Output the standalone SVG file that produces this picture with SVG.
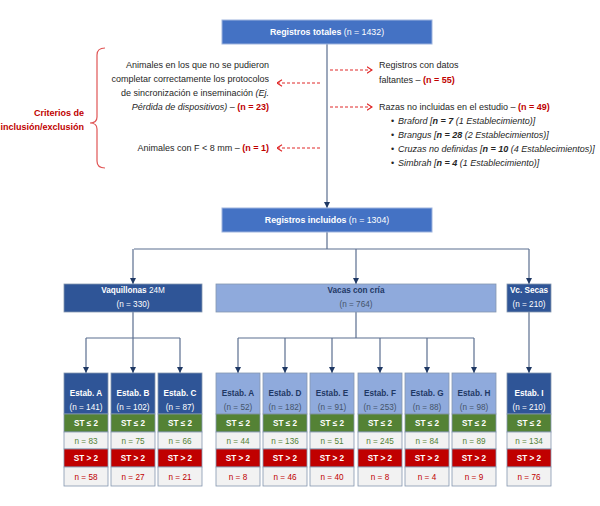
<svg xmlns="http://www.w3.org/2000/svg" width="600" height="506" viewBox="0 0 600 506">
<defs>
<marker id="arr" viewBox="0 0 6 6" refX="6" refY="3" markerWidth="6" markerHeight="6" markerUnits="userSpaceOnUse" orient="auto"><path d="M0,0 L6,3 L0,6 Z" fill="#1F3864"/></marker>
<marker id="darr" viewBox="0 0 6 8" refX="5.5" refY="4" markerWidth="6" markerHeight="8" markerUnits="userSpaceOnUse" orient="auto"><path d="M0.5,0.8 L5.5,4 L0.5,7.2" fill="none" stroke="#E02828" stroke-width="1.1"/></marker>
<style>
text{font-family:"Liberation Sans",Arial,sans-serif;}
.con{fill:none;stroke:#5B6E8F;stroke-width:1.2;marker-end:url(#arr);}
.line{fill:none;stroke:#5B6E8F;stroke-width:1.2;}
.dash{fill:none;stroke:#E02828;stroke-width:1;stroke-dasharray:3,2;marker-end:url(#darr);}
.ann{font-size:9px;fill:#262626;}
.red{fill:#C00000;font-weight:bold;}
.top{fill:#4472C4;stroke:#9DB3DD;stroke-width:1;}
.tw{font-size:8.8px;fill:#FFFFFF;text-anchor:middle;}
.dk{fill:#2F5597;stroke:#8497B0;stroke-width:0.8;}
.lt{fill:#8FAADC;stroke:#8497B0;stroke-width:0.8;}
.gr{fill:#548235;stroke:#8497B0;stroke-width:0.8;}
.rd{fill:#C00000;stroke:#8497B0;stroke-width:0.8;}
.wh{fill:#F2F2F2;stroke:#8497B0;stroke-width:0.8;}
.s{font-size:8.2px;text-anchor:middle;}
.w{fill:#FFFFFF;}
.nv{fill:#1F3864;}
.gy{fill:#44546A;}
.gt{fill:#548235;}
.rt{fill:#C00000;}
</style>
</defs>

<g id="connectors">
<path class="con" d="M327,44 V208"/>
<path class="line" d="M327,232 V249 M134,249 H529"/>
<path class="con" d="M133,249 V284"/>
<path class="con" d="M356,249 V284"/>
<path class="con" d="M529,249 V284"/>
<path class="line" d="M133,312 V338 M86,338 H180"/>
<path class="con" d="M86,338 V373"/>
<path class="con" d="M133,338 V373"/>
<path class="con" d="M180,338 V373"/>
<path class="line" d="M356,312 V338 M238,338 H474"/>
<path class="con" d="M238,338 V373"/>
<path class="con" d="M285,338 V373"/>
<path class="con" d="M332,338 V373"/>
<path class="con" d="M380,338 V373"/>
<path class="con" d="M427,338 V373"/>
<path class="con" d="M474,338 V373"/>
<path class="con" d="M529,312 V373"/>
<path class="dash" d="M330,70 H372"/>
<path class="dash" d="M330,107 H372"/>
<path class="dash" d="M320,83 H277"/>
<path class="dash" d="M320,148 H277"/>
</g>

<g id="brace">
<path d="M105,48 Q97,48 97,55 V117 Q97,123 90,123 Q97,123 97,129 V161 Q97,168 105,168" fill="none" stroke="#E05555" stroke-width="1.2"/>
<text class="red" font-size="9" text-anchor="end" x="84" y="116">Criterios de</text>
<text class="red" font-size="9" text-anchor="end" x="84" y="130">inclusión/exclusión</text>
</g>

<g id="registros-totales">
<rect class="top" x="222" y="20" width="210" height="24"/>
<text class="tw" x="327" y="35"><tspan font-weight="bold">Registros totales</tspan> (n = 1432)</text>
</g>

<g id="excl-protocolos">
<text class="ann" text-anchor="end" x="269" y="68">Animales en los que no se pudieron</text>
<text class="ann" text-anchor="end" x="269" y="82">completar correctamente los protocolos</text>
<text class="ann" text-anchor="end" x="269" y="96">de sincronización e inseminación <tspan font-style="italic">(Ej.</tspan></text>
<text class="ann" text-anchor="end" x="269" y="110"><tspan font-style="italic">Pérdida de dispositivos)</tspan> – <tspan class="red">(n = 23)</tspan></text>
</g>

<g id="excl-f">
<text class="ann" text-anchor="end" x="269" y="151">Animales con F &lt; 8 mm – <tspan class="red">(n = 1)</tspan></text>
</g>

<g id="excl-datos">
<text class="ann" x="379" y="68">Registros con datos</text>
<text class="ann" x="379" y="83">faltantes – <tspan class="red">(n = 55)</tspan></text>
</g>

<g id="excl-razas">
<text class="ann" x="379" y="110">Razas no incluidas en el estudio – <tspan class="red">(n = 49)</tspan></text>
<text class="ann" x="391" y="124">•</text>
<text class="ann" x="398" y="124" font-style="italic">Braford [<tspan font-weight="bold">n = 7</tspan> (1 Establecimiento)]</text>
<text class="ann" x="391" y="138">•</text>
<text class="ann" x="398" y="138" font-style="italic">Brangus [<tspan font-weight="bold">n = 28</tspan> (2 Establecimientos)]</text>
<text class="ann" x="391" y="152">•</text>
<text class="ann" x="398" y="152" font-style="italic">Cruzas no definidas [<tspan font-weight="bold">n = 10</tspan> (4 Establecimientos)]</text>
<text class="ann" x="391" y="166">•</text>
<text class="ann" x="398" y="166" font-style="italic">Simbrah [<tspan font-weight="bold">n = 4</tspan> (1 Establecimiento)]</text>
</g>

<g id="registros-incluidos">
<rect class="top" x="222" y="208" width="210" height="24"/>
<text class="tw" x="327" y="223"><tspan font-weight="bold">Registros incluidos</tspan> (n = 1304)</text>
</g>

<g id="vaquillonas">
<rect class="dk" x="64" y="284" width="138" height="28"/>
<text class="s w" x="133" y="293"><tspan font-weight="bold">Vaquillonas</tspan> 24M</text>
<text class="s w" x="133" y="306.5">(n = 330)</text>
</g>
<g id="vacas-cria">
<rect class="lt" x="216" y="284" width="280" height="28"/>
<text class="s nv" x="356" y="293" font-weight="bold">Vacas con cría</text>
<text class="s gy" x="356" y="306.5">(n = 764)</text>
</g>
<g id="vc-secas">
<rect class="dk" x="507" y="284" width="44" height="28"/>
<text class="s w" x="529" y="293" font-weight="bold">Vc. Secas</text>
<text class="s w" x="529" y="306.5">(n = 210)</text>
</g>

<g id="estab-v-a">
<rect class="dk" x="64" y="373" width="44" height="41"/><rect class="gr" x="64" y="414" width="44" height="18"/><rect class="wh" x="64" y="432" width="44" height="17"/><rect class="rd" x="64" y="449" width="44" height="18"/><rect class="wh" x="64" y="467" width="44" height="19"/>
<text class="s w" x="86" y="396" font-weight="bold">Estab. A</text><text class="s w" x="86" y="409.5">(n = 141)</text>
<text class="s w" x="86" y="426" font-weight="bold">ST ≤ 2</text><text class="s gt" x="86" y="443.5">n = 83</text>
<text class="s w" x="86" y="461" font-weight="bold">ST &gt; 2</text><text class="s rt" x="86" y="479.5">n = 58</text>
</g>
<g id="estab-v-b">
<rect class="dk" x="111" y="373" width="44" height="41"/><rect class="gr" x="111" y="414" width="44" height="18"/><rect class="wh" x="111" y="432" width="44" height="17"/><rect class="rd" x="111" y="449" width="44" height="18"/><rect class="wh" x="111" y="467" width="44" height="19"/>
<text class="s w" x="133" y="396" font-weight="bold">Estab. B</text><text class="s w" x="133" y="409.5">(n = 102)</text>
<text class="s w" x="133" y="426" font-weight="bold">ST ≤ 2</text><text class="s gt" x="133" y="443.5">n = 75</text>
<text class="s w" x="133" y="461" font-weight="bold">ST &gt; 2</text><text class="s rt" x="133" y="479.5">n = 27</text>
</g>
<g id="estab-v-c">
<rect class="dk" x="158" y="373" width="44" height="41"/><rect class="gr" x="158" y="414" width="44" height="18"/><rect class="wh" x="158" y="432" width="44" height="17"/><rect class="rd" x="158" y="449" width="44" height="18"/><rect class="wh" x="158" y="467" width="44" height="19"/>
<text class="s w" x="180" y="396" font-weight="bold">Estab. C</text><text class="s w" x="180" y="409.5">(n = 87)</text>
<text class="s w" x="180" y="426" font-weight="bold">ST ≤ 2</text><text class="s gt" x="180" y="443.5">n = 66</text>
<text class="s w" x="180" y="461" font-weight="bold">ST &gt; 2</text><text class="s rt" x="180" y="479.5">n = 21</text>
</g>

<g id="estab-c-a">
<rect class="lt" x="216" y="373" width="44" height="41"/><rect class="gr" x="216" y="414" width="44" height="18"/><rect class="wh" x="216" y="432" width="44" height="17"/><rect class="rd" x="216" y="449" width="44" height="18"/><rect class="wh" x="216" y="467" width="44" height="19"/>
<text class="s nv" x="238" y="396" font-weight="bold">Estab. A</text><text class="s gy" x="238" y="409.5">(n = 52)</text>
<text class="s w" x="238" y="426" font-weight="bold">ST ≤ 2</text><text class="s gt" x="238" y="443.5">n = 44</text>
<text class="s w" x="238" y="461" font-weight="bold">ST &gt; 2</text><text class="s rt" x="238" y="479.5">n = 8</text>
</g>
<g id="estab-c-d">
<rect class="lt" x="263" y="373" width="44" height="41"/><rect class="gr" x="263" y="414" width="44" height="18"/><rect class="wh" x="263" y="432" width="44" height="17"/><rect class="rd" x="263" y="449" width="44" height="18"/><rect class="wh" x="263" y="467" width="44" height="19"/>
<text class="s nv" x="285" y="396" font-weight="bold">Estab. D</text><text class="s gy" x="285" y="409.5">(n = 182)</text>
<text class="s w" x="285" y="426" font-weight="bold">ST ≤ 2</text><text class="s gt" x="285" y="443.5">n = 136</text>
<text class="s w" x="285" y="461" font-weight="bold">ST &gt; 2</text><text class="s rt" x="285" y="479.5">n = 46</text>
</g>
<g id="estab-c-e">
<rect class="lt" x="310" y="373" width="44" height="41"/><rect class="gr" x="310" y="414" width="44" height="18"/><rect class="wh" x="310" y="432" width="44" height="17"/><rect class="rd" x="310" y="449" width="44" height="18"/><rect class="wh" x="310" y="467" width="44" height="19"/>
<text class="s nv" x="332" y="396" font-weight="bold">Estab. E</text><text class="s gy" x="332" y="409.5">(n = 91)</text>
<text class="s w" x="332" y="426" font-weight="bold">ST ≤ 2</text><text class="s gt" x="332" y="443.5">n = 51</text>
<text class="s w" x="332" y="461" font-weight="bold">ST &gt; 2</text><text class="s rt" x="332" y="479.5">n = 40</text>
</g>
<g id="estab-c-f">
<rect class="lt" x="358" y="373" width="44" height="41"/><rect class="gr" x="358" y="414" width="44" height="18"/><rect class="wh" x="358" y="432" width="44" height="17"/><rect class="rd" x="358" y="449" width="44" height="18"/><rect class="wh" x="358" y="467" width="44" height="19"/>
<text class="s nv" x="380" y="396" font-weight="bold">Estab. F</text><text class="s gy" x="380" y="409.5">(n = 253)</text>
<text class="s w" x="380" y="426" font-weight="bold">ST ≤ 2</text><text class="s gt" x="380" y="443.5">n = 245</text>
<text class="s w" x="380" y="461" font-weight="bold">ST &gt; 2</text><text class="s rt" x="380" y="479.5">n = 8</text>
</g>
<g id="estab-c-g">
<rect class="lt" x="405" y="373" width="44" height="41"/><rect class="gr" x="405" y="414" width="44" height="18"/><rect class="wh" x="405" y="432" width="44" height="17"/><rect class="rd" x="405" y="449" width="44" height="18"/><rect class="wh" x="405" y="467" width="44" height="19"/>
<text class="s nv" x="427" y="396" font-weight="bold">Estab. G</text><text class="s gy" x="427" y="409.5">(n = 88)</text>
<text class="s w" x="427" y="426" font-weight="bold">ST ≤ 2</text><text class="s gt" x="427" y="443.5">n = 84</text>
<text class="s w" x="427" y="461" font-weight="bold">ST &gt; 2</text><text class="s rt" x="427" y="479.5">n = 4</text>
</g>
<g id="estab-c-h">
<rect class="lt" x="452" y="373" width="44" height="41"/><rect class="gr" x="452" y="414" width="44" height="18"/><rect class="wh" x="452" y="432" width="44" height="17"/><rect class="rd" x="452" y="449" width="44" height="18"/><rect class="wh" x="452" y="467" width="44" height="19"/>
<text class="s nv" x="474" y="396" font-weight="bold">Estab. H</text><text class="s gy" x="474" y="409.5">(n = 98)</text>
<text class="s w" x="474" y="426" font-weight="bold">ST ≤ 2</text><text class="s gt" x="474" y="443.5">n = 89</text>
<text class="s w" x="474" y="461" font-weight="bold">ST &gt; 2</text><text class="s rt" x="474" y="479.5">n = 9</text>
</g>

<g id="estab-s-i">
<rect class="dk" x="507" y="373" width="44" height="41"/><rect class="gr" x="507" y="414" width="44" height="18"/><rect class="wh" x="507" y="432" width="44" height="17"/><rect class="rd" x="507" y="449" width="44" height="18"/><rect class="wh" x="507" y="467" width="44" height="19"/>
<text class="s w" x="529" y="396" font-weight="bold">Estab. I</text><text class="s w" x="529" y="409.5">(n = 210)</text>
<text class="s w" x="529" y="426" font-weight="bold">ST ≤ 2</text><text class="s gt" x="529" y="443.5">n = 134</text>
<text class="s w" x="529" y="461" font-weight="bold">ST &gt; 2</text><text class="s rt" x="529" y="479.5">n = 76</text>
</g>
</svg>
